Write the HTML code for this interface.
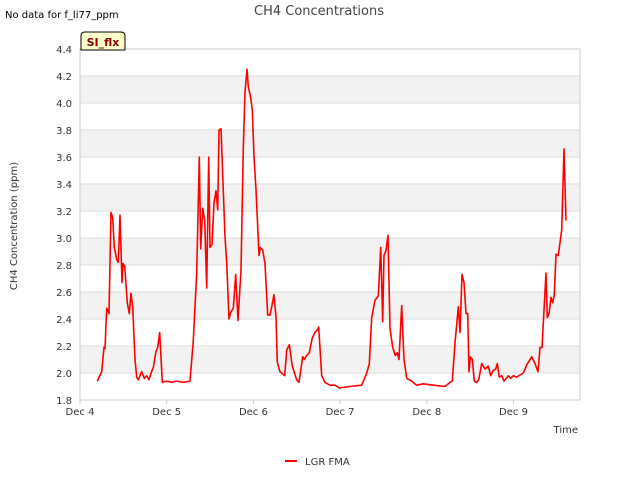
<!DOCTYPE html>
<html><head><meta charset="utf-8"><style>
body{margin:0;background:#fff;width:640px;height:480px;overflow:hidden}
svg text{font-family:"DejaVu Sans","Liberation Sans",sans-serif}
</style></head><body>
<svg id="chart" width="640" height="480">
<rect width="640" height="480" fill="#fff"/>
<g id="bands"></g><g id="grid"></g>
<rect x="80" y="49" width="500" height="351" fill="none" stroke="#ccc"/>
<g id="ticks"></g>
<path id="line" fill="none" stroke="#ff0000" stroke-width="1.6" stroke-linejoin="round"/>
<text x="319" y="15" text-anchor="middle" font-size="13" fill="#444">CH4 Concentrations</text>
<text x="5" y="18" font-size="10" fill="#000">No data for f_li77_ppm</text>
<g><path d="M81,50 L81,36 Q81,32 85,32 L121,32 Q125,32 125,36 L125,50 Z" fill="#ffffcc" stroke="#000"/>
<text x="103" y="46" text-anchor="middle" font-size="11" font-weight="bold" fill="#8b0000">SI_flx</text></g>
<text transform="translate(17,226) rotate(-90)" text-anchor="middle" font-size="10" fill="#333">CH4 Concentration (ppm)</text>
<text x="578" y="433" text-anchor="end" font-size="10" fill="#333">Time</text>
<g><line x1="285" y1="461" x2="297" y2="461" stroke="#ff0000" stroke-width="2"/>
<text x="305" y="465" font-size="10" fill="#333">LGR FMA</text></g>
</svg>
<script>
const yTicks=[1.8,2.0,2.2,2.4,2.6,2.8,3.0,3.2,3.4,3.6,3.8,4.0,4.2,4.4];
const xTickLabels=["Dec 4","Dec 5","Dec 6","Dec 7","Dec 8","Dec 9"];
const days=[0.200,0.250,0.277,0.288,0.308,0.334,0.358,0.377,0.396,0.423,0.442,0.461,0.484,0.496,0.516,0.546,0.569,0.588,0.608,0.634,0.654,0.672,0.712,0.742,0.769,0.796,0.819,0.845,0.877,0.896,0.919,0.949,1.000,1.058,1.115,1.191,1.269,1.307,1.346,1.376,1.392,1.415,1.438,1.461,1.484,1.499,1.522,1.546,1.569,1.588,1.603,1.626,1.672,1.692,1.719,1.738,1.768,1.796,1.822,1.857,1.884,1.903,1.926,1.941,1.969,1.987,2.007,2.030,2.065,2.080,2.107,2.134,2.165,2.191,2.211,2.238,2.261,2.276,2.307,2.361,2.384,2.414,2.449,2.499,2.526,2.569,2.587,2.615,2.645,2.679,2.711,2.737,2.753,2.788,2.826,2.884,2.941,2.991,3.114,3.249,3.307,3.337,3.364,3.403,3.441,3.468,3.491,3.506,3.530,3.553,3.576,3.607,3.637,3.660,3.679,3.710,3.737,3.768,3.826,3.884,3.960,4.075,4.210,4.268,4.294,4.325,4.363,4.383,4.406,4.429,4.452,4.472,4.487,4.502,4.525,4.548,4.575,4.599,4.633,4.671,4.709,4.737,4.767,4.795,4.813,4.836,4.864,4.890,4.940,4.968,4.998,5.037,5.113,5.152,5.210,5.248,5.283,5.306,5.329,5.375,5.390,5.413,5.433,5.452,5.471,5.490,5.517,5.556,5.582,5.606];
const ch4=[1.94,2.01,2.19,2.18,2.48,2.44,3.19,3.15,2.93,2.84,2.82,3.17,2.67,2.81,2.79,2.52,2.44,2.59,2.49,2.10,1.97,1.95,2.01,1.96,1.98,1.95,2.00,2.04,2.16,2.19,2.30,1.93,1.94,1.93,1.94,1.93,1.94,2.24,2.74,3.60,2.92,3.22,3.13,2.63,3.60,2.93,2.95,3.26,3.35,3.21,3.80,3.81,3.01,2.82,2.40,2.45,2.48,2.73,2.39,2.76,3.67,4.08,4.25,4.12,4.04,3.95,3.60,3.36,2.87,2.93,2.91,2.81,2.43,2.43,2.49,2.58,2.41,2.08,2.01,1.98,2.17,2.21,2.05,1.95,1.93,2.12,2.10,2.13,2.15,2.26,2.30,2.32,2.34,1.98,1.93,1.91,1.91,1.89,1.90,1.91,2.00,2.07,2.41,2.54,2.57,2.93,2.38,2.87,2.91,3.02,2.33,2.19,2.13,2.15,2.10,2.50,2.10,1.96,1.94,1.91,1.92,1.91,1.90,1.93,1.94,2.22,2.49,2.30,2.73,2.67,2.44,2.44,2.01,2.12,2.10,1.94,1.93,1.95,2.07,2.03,2.05,1.98,2.02,2.03,2.07,1.97,1.98,1.94,1.98,1.96,1.98,1.97,2.00,2.06,2.12,2.07,2.01,2.19,2.19,2.74,2.41,2.45,2.56,2.52,2.58,2.88,2.87,3.06,3.66,3.13];
const X=d=>80+d*86.7, Y=v=>400-(v-1.8)*135;
const ns="http://www.w3.org/2000/svg";
const bands=document.getElementById('bands'),grid=document.getElementById('grid'),ticks=document.getElementById('ticks');
for(let i=0;i<yTicks.length;i++){const v=yTicks[i];
 if(i%2===1&&i<yTicks.length-1){const r=document.createElementNS(ns,'rect');r.setAttribute('x',80);r.setAttribute('y',Y(v+0.2));r.setAttribute('width',500);r.setAttribute('height',Y(v)-Y(v+0.2));r.setAttribute('fill','#f2f2f2');
 
 bands.appendChild(r);}
 const l=document.createElementNS(ns,'line');l.setAttribute('x1',80);l.setAttribute('x2',580);l.setAttribute('y1',Y(v));l.setAttribute('y2',Y(v));l.setAttribute('stroke','#ddd');
 
 grid.appendChild(l);
 const t=document.createElementNS(ns,'text');t.setAttribute('x',72);t.setAttribute('y',Y(v)+4);t.setAttribute('text-anchor','end');t.setAttribute('font-size','10');t.setAttribute('fill','#333');t.textContent=v.toFixed(1);
 
 ticks.appendChild(t);}
xTickLabels.forEach((s,i)=>{const t=document.createElementNS(ns,'text');t.setAttribute('x',X(i));t.setAttribute('y',415);t.setAttribute('text-anchor','middle');t.setAttribute('font-size','10');t.setAttribute('fill','#333');t.textContent=s;
 
 ticks.appendChild(t);
 const l=document.createElementNS(ns,'line');l.setAttribute('x1',X(i));l.setAttribute('x2',X(i));l.setAttribute('y1',400);l.setAttribute('y2',404);l.setAttribute('stroke','#ccc');
 
 ticks.appendChild(l);});
document.getElementById('line').setAttribute('d',days.map((d,i)=>(i?'L':'M')+X(d).toFixed(1)+','+Y(ch4[i]).toFixed(1)).join(' '));
</script>
</body></html>
